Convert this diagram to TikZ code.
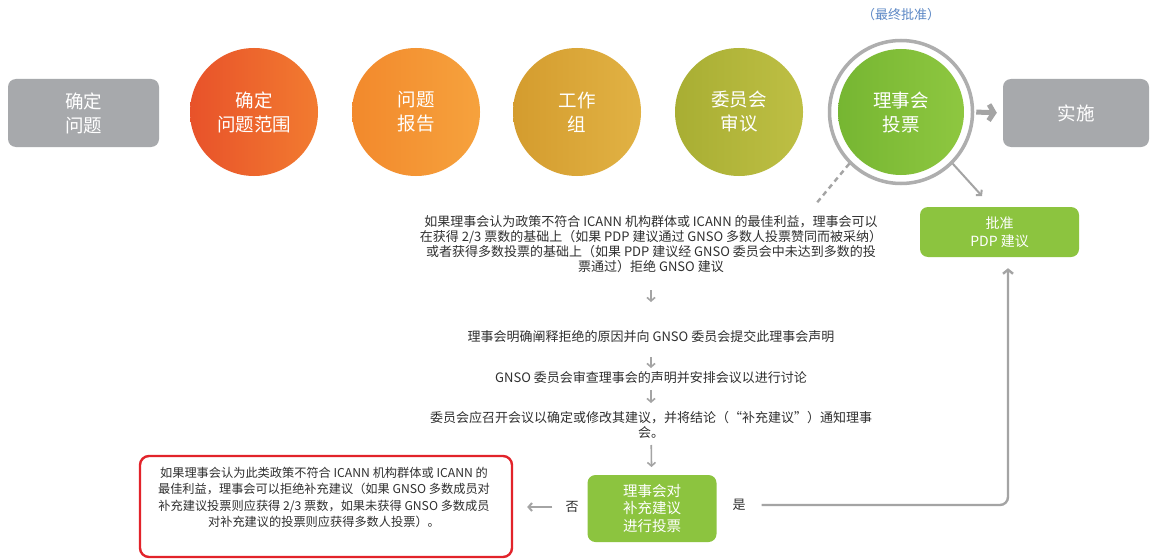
\documentclass[tikz,border=0pt]{standalone}
\usepackage{fontspec}
\setmainfont{Noto Sans CJK SC}
\usetikzlibrary{arrows.meta}
\definecolor{boxgray}{HTML}{A7A9AC}
\definecolor{ringgray}{HTML}{AEAEAE}
\definecolor{agray}{HTML}{A4A4A4}
\definecolor{txt}{HTML}{303030}
\definecolor{okgreen}{HTML}{8CC43F}
\definecolor{redline}{HTML}{E2232A}
\definecolor{bluet}{HTML}{5B87C5}
\definecolor{c1l}{HTML}{E8522A}\definecolor{c1r}{HTML}{F27B30}
\definecolor{c2l}{HTML}{F2892C}\definecolor{c2r}{HTML}{F6A23D}
\definecolor{c3l}{HTML}{D49C2E}\definecolor{c3r}{HTML}{E1B244}
\definecolor{c4l}{HTML}{A8AE33}\definecolor{c4r}{HTML}{BEBF44}
\definecolor{c5l}{HTML}{76B632}\definecolor{c5r}{HTML}{8EC740}
\tikzset{
  graybox/.style={rectangle, rounded corners=8pt, fill=boxgray, text=white,
    minimum width=151pt, minimum height=68pt, align=center, inner sep=0pt,
    font=\fontsize{18.5}{24}\selectfont},
  stage/.style={circle, minimum size=128pt, inner sep=0pt, text=white, align=center,
    font=\fontsize{18.5}{24}\selectfont},
  body/.style={text=txt, align=center, inner sep=0pt, font=\fontsize{13}{15}\selectfont},
  greenbox/.style={rectangle, rounded corners=8pt, fill=okgreen, text=white,
    align=center, inner sep=0pt},
  darrow/.style={draw=agray, line width=1.6pt, -{Straight Barb[length=3.5pt,width=8pt]}},
  gline/.style={draw=agray, line width=2.4pt, -{Straight Barb[length=4pt,width=10pt]}},
  bigarrow/.style={draw=agray, line width=5pt, -{Straight Barb[length=5pt,width=16pt]}},
  dashline/.style={draw=agray, line width=2.4pt, dash pattern=on 5pt off 4pt},
}
\begin{document}
\begin{tikzpicture}[x=1pt,y=-1pt]
\useasboundingbox[fill=white] (0,0) rectangle (1150,559);

% top row
\node[graybox] (b1) at (83.5,113) {确定\\问题};
\node[stage, left color=c1l, right color=c1r] (c1) at (254,112) {确定\\问题范围};
\node[stage, left color=c2l, right color=c2r] (c2) at (416,112) {问题\\报告};
\node[stage, left color=c3l, right color=c3r] (c3) at (577,112) {工作\\组};
\node[stage, left color=c4l, right color=c4r] (c4) at (739,112) {委员会\\审议};
\node[stage, minimum size=126pt, left color=c5l, right color=c5r] (c5) at (901,112) {理事会\\投票};
\node[circle, draw=ringgray, line width=3.5pt, minimum size=143pt, inner sep=0pt] (ring) at (c5) {};
\node[text=bluet, font=\fontsize{13}{15}\selectfont, inner sep=0pt] (final) at (901,15) {（最终批准）};
\node[graybox, minimum width=146pt] (b2) at (1076,113) {实施};
\draw[bigarrow, shorten <=2pt, shorten >=6pt] (ring.east) -- (b2.west);

% approval box
\node[greenbox, minimum width=159pt, minimum height=50pt,
      font=\fontsize{14}{18}\selectfont] (ok) at (999.5,232) {批准\\PDP 建议};
\coordinate (okin) at (982,196);
\coordinate (dashend) at (815,205);
\draw[dashline] (ring.225) -- (dashend);
\draw[darrow, line width=2pt] (ring.315) -- (okin);

% rejection path texts
\node[body] (t1) at (651,244.5) {如果理事会认为政策不符合 ICANN 机构群体或 ICANN 的最佳利益，理事会可以\\在获得 2/3 票数的基础上（如果 PDP 建议通过 GNSO 多数人投票赞同而被采纳）\\或者获得多数投票的基础上（如果 PDP 建议经 GNSO 委员会中未达到多数的投\\票通过）拒绝 GNSO 建议};
\node[body] (t2) at (651,337) {理事会明确阐释拒绝的原因并向 GNSO 委员会提交此理事会声明};
\node[body] (t3) at (651,378) {GNSO 委员会审查理事会的声明并安排会议以进行讨论};
\node[body] (t4) at (651,424.5) {委员会应召开会议以确定或修改其建议，并将结论（“补充建议”）通知理事\\会。};

\node[greenbox, minimum width=129pt, minimum height=67pt,
      font=\fontsize{14.5}{17.5}\selectfont] (vote) at (652,508.5) {理事会对\\补充建议\\进行投票};

\draw[darrow, shorten <=45.5pt, shorten >=35pt] (t1.center) -- (t2.center);
\draw[darrow, shorten <=20pt, shorten >=10pt] (t2.center) -- (t3.center);
\draw[darrow, shorten <=12pt, shorten >=21.5pt] (t3.center) -- (t4.center);
\draw[darrow, shorten <=20.5pt, shorten >=41.5pt] (t4.center) -- (vote.center);

% no branch
\node[rectangle, draw=redline, line width=2.4pt, rounded corners=9pt,
      minimum width=372pt, minimum height=101pt] (red) at (326,506.5) {};
\node[body, font=\fontsize{12.2}{16.3}\selectfont] (redtxt) at (324,497.5) {如果理事会认为此类政策不符合 ICANN 机构群体或 ICANN 的\\最佳利益，理事会可以拒绝补充建议（如果 GNSO 多数成员对\\补充建议投票则应获得 2/3 票数，如果未获得 GNSO 多数成员\\对补充建议的投票则应获得多数人投票）。};
\node[body] (no) at (572,507) {否};
\draw[darrow, line width=2pt, shorten <=13pt, shorten >=14pt] (no.west) -- (red.east |- no.west);

% yes branch
\node[body] (yes) at (739,505) {是};
\draw[gline, rounded corners=8pt, shorten <=16pt, shorten >=11pt] (yes.east) -| ([xshift=8.5pt]ok.south);
\end{tikzpicture}
\end{document}
